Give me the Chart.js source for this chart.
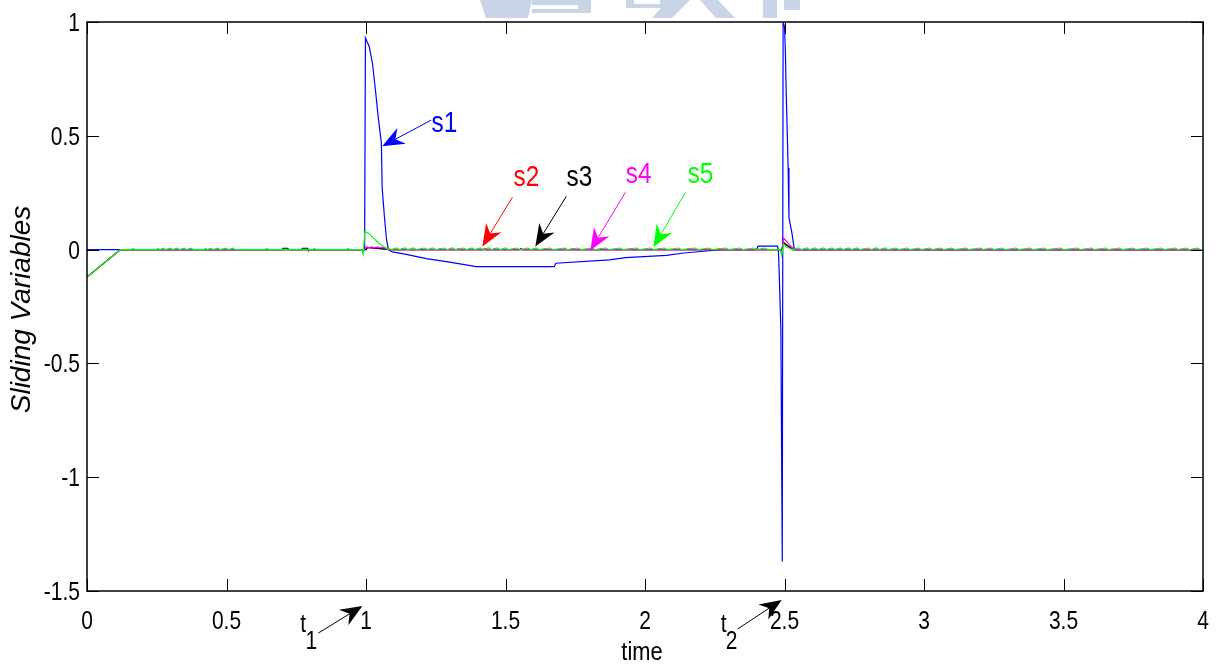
<!DOCTYPE html>
<html>
<head>
<meta charset="utf-8">
<title>Sliding Variables</title>
<script src="https://cdn.jsdelivr.net/npm/chart.js@4.4.1/dist/chart.umd.min.js"></script>
<style>
  html, body { margin: 0; padding: 0; background: #fff; }
  canvas { display: block; }
</style>
</head>
<body>
<canvas id="slidingChart" width="1218" height="664"></canvas>
<script>
// axis ticks
const xTicks = [0, 0.5, 1, 1.5, 2, 2.5, 3, 3.5, 4];
const yTicks = [-1.5, -1, -0.5, 0, 0.5, 1];

// s1
const s1T = [0, 0.995, 0.998, 1.012, 1.023, 1.033, 1.044, 1.055, 1.058, 1.065, 1.073, 1.080, 1.094, 1.14, 1.216,
  1.30, 1.395, 1.675, 1.68, 1.873, 1.93, 2.077, 2.14, 2.23, 2.27, 2.40, 2.405, 2.475, 2.478, 2.481, 2.487,
  2.492, 2.495, 2.500, 2.503, 2.506, 2.510, 2.513, 2.516, 2.527, 2.534, 2.537, 4.0];
const s1V = [0, 0, 0.93, 0.89, 0.82, 0.71, 0.58, 0.47, 0.27, 0.16, 0.05, 0, -0.01, -0.02, -0.04,
  -0.055, -0.075, -0.075, -0.06, -0.045, -0.035, -0.025, -0.015, -0.005, 0, 0, 0.015, 0.015, 0, -0.1, -0.35,
  -1.37, 1.0, 0.98, 0.88, 0.69, 0.51, 0.36, 0.14, 0.07, 0.01, 0, 0];

// s2
const s2T = [0, 0.12, 1.0, 1.005, 1.09, 1.42, 1.425, 1.43, 1.71, 1.715, 1.72, 2.49, 2.497, 2.53, 3.2, 3.205, 3.21, 4.0];
const s2V = [-0.12, 0, 0, 0.01, 0, 0, 0.005, 0, 0, 0.005, 0, 0, 0.03, 0, 0, 0.005, 0, 0];

// s3
const s3T = [0, 0.12, 0.70, 0.702, 0.72, 0.722, 0.77, 0.772, 0.79, 0.792, 1.0, 1.005, 1.09, 1.55, 1.555, 1.56,
  2.49, 2.497, 2.53, 4.0];
const s3V = [-0.12, 0, 0, 0.006, 0.006, 0, 0, 0.006, 0.006, 0, 0, 0.01, 0, 0, 0.005, 0,
  0, 0.03, 0, 0];

// s4
const s4T = [0, 0.12, 0.995, 1.0, 1.01, 1.02, 1.03, 1.04, 1.05, 1.06, 1.08,
  1.125, 1.13, 1.135, 1.195, 1.20, 1.205, 1.26, 1.265, 1.27, 1.325, 1.33, 1.335, 1.455, 1.46, 1.465,
  1.525, 1.53, 1.535, 1.635, 1.64, 1.645, 1.735, 1.74, 1.745, 1.835, 1.84, 1.845, 1.94, 1.945, 1.95,
  2.045, 2.05, 2.055, 2.15, 2.155, 2.16, 2.26, 2.265, 2.27,
  2.48, 2.49, 2.497, 2.505, 2.515, 2.527, 2.537, 4.0];
const s4V = [-0.12, 0, 0, 0.012, 0.008, 0.012, 0.008, 0.012, 0.008, 0.01, 0,
  0, 0.005, 0, 0, 0.005, 0, 0, 0.005, 0, 0, 0.005, 0, 0, 0.005, 0,
  0, 0.005, 0, 0, 0.005, 0, 0, 0.005, 0, 0, 0.005, 0, 0, 0.005, 0,
  0, 0.005, 0, 0, 0.005, 0, 0, 0.005, 0,
  0, -0.01, 0.05, 0.04, 0.025, 0.01, 0, 0];

// s5
const s5T = [0, 0.12, 0.16, 0.165, 0.17,
  0.25, 0.255, 0.26, 0.275, 0.28, 0.30, 0.305, 0.325, 0.33, 0.35, 0.355, 0.375, 0.38,
  0.42, 0.425, 0.43, 0.445, 0.45, 0.47, 0.475, 0.50, 0.505, 0.525, 0.53,
  0.64, 0.645, 0.65, 0.81, 0.815, 0.82, 0.93, 0.935, 0.94,
  0.985, 0.99, 0.996, 1.012, 1.023, 1.044, 1.062, 1.077, 1.09,
  1.11, 1.12, 1.14, 1.15, 1.17, 1.18, 1.21, 1.22, 1.24, 1.25, 1.28, 1.29, 1.31, 1.32, 1.35, 1.36,
  1.38, 1.39, 1.41, 1.42, 1.44, 1.45, 1.47, 1.48, 1.50, 1.51, 1.54, 1.55, 1.58, 1.59, 1.61, 1.62,
  1.66, 1.67, 1.71, 1.72, 1.76, 1.77, 1.81, 1.82, 1.86, 1.87, 1.91, 1.92, 1.97, 1.98, 2.02, 2.03,
  2.07, 2.08, 2.12, 2.13, 2.18, 2.19, 2.23, 2.24, 2.29, 2.30, 2.34, 2.35, 2.39, 2.40, 2.43, 2.44,
  2.485, 2.49, 2.497, 2.505, 2.52, 2.53,
  2.55, 2.56, 2.58, 2.59, 2.61, 2.62, 2.64, 2.65, 2.67, 2.68, 2.70, 2.71, 2.73, 2.74, 2.76, 2.77,
  2.80, 2.81, 2.83, 2.84, 2.86, 2.87, 2.90, 2.91, 2.94, 2.95, 2.98, 2.99, 3.02, 3.03, 3.06, 3.07,
  3.10, 3.11, 3.15, 3.16, 3.20, 3.21, 3.24, 3.25, 3.28, 3.29, 3.33, 3.34, 3.38, 3.39, 3.43, 3.44,
  3.49, 3.50, 3.55, 3.56, 3.60, 3.61, 3.65, 3.66, 3.70, 3.71, 3.75, 3.76, 3.80, 3.81, 3.85, 3.86,
  3.90, 3.91, 3.94, 3.95, 3.98, 3.99, 4.0];
const s5V = [-0.12, 0, 0, 0.006, 0,
  0, 0.006, 0, 0.006, 0, 0.006, 0, 0.006, 0, 0.006, 0, 0.006, 0,
  0, 0.006, 0, 0.006, 0, 0.006, 0, 0.006, 0, 0.006, 0,
  0, 0.006, 0, 0, 0.006, 0, 0, 0.006, 0,
  0, -0.02, 0.08, 0.07, 0.055, 0.03, 0.015, 0.004, 0,
  0.007, 0, 0.007, 0, 0.007, 0, 0.007, 0, 0.007, 0, 0.007, 0, 0.007, 0, 0.007, 0,
  0.007, 0, 0.007, 0, 0.007, 0, 0.007, 0, 0.007, 0, 0.007, 0, 0.007, 0, 0.007, 0,
  0.007, 0, 0.007, 0, 0.007, 0, 0.007, 0, 0.007, 0, 0.007, 0, 0.007, 0, 0.007, 0,
  0.007, 0, 0.007, 0, 0.007, 0, 0.007, 0, 0.007, 0, 0.007, 0, 0.007, 0, 0.007, 0,
  0, -0.025, 0.025, 0.012, 0.005, 0,
  0.007, 0, 0.007, 0, 0.007, 0, 0.007, 0, 0.007, 0, 0.007, 0, 0.007, 0, 0.007, 0,
  0.007, 0, 0.007, 0, 0.007, 0, 0.007, 0, 0.007, 0, 0.007, 0, 0.007, 0, 0.007, 0,
  0.007, 0, 0.007, 0, 0.007, 0, 0.007, 0, 0.007, 0, 0.007, 0, 0.007, 0, 0.007, 0,
  0.007, 0, 0.007, 0, 0.007, 0, 0.007, 0, 0.007, 0, 0.007, 0, 0.007, 0, 0.007, 0,
  0.007, 0, 0.007, 0, 0.007, 0, 0];

const seriesNames = ['s1', 's2', 's3', 's4', 's5'];
const seriesColors = ['#0000ff', '#ff0000', '#000000', '#ff00ff', '#00ff00'];

// text labels with arrows, in data units
const labelX = [1.281, 1.575, 1.765, 1.977, 2.199];
const labelY = [0.551, 0.313, 0.313, 0.326, 0.326];
const arrowFromX = [1.234, 1.525, 1.718, 1.930, 2.145];
const arrowFromY = [0.569, 0.230, 0.234, 0.252, 0.252];
const arrowToX = [1.058, 1.417, 1.607, 1.804, 2.030];
const arrowToY = [0.454, 0.014, 0.014, -0.004, 0.010];

// switching instants t1, t2 under the axis
const markSub = ['1', '2'];
const markTextX = [0.775, 2.282];
const markTextY = [-1.650, -1.650];
const markFromX = [0.829, 2.332];
const markFromY = [-1.685, -1.667];
const markToX = [0.987, 2.490];
const markToY = [-1.566, -1.539];

const SANS = "'Liberation Sans', Arial, sans-serif";
const SQUEEZE = 0.84;   // narrow look for the axis lettering

function toPoints(T, V) {
  return T.map(function (t, i) { return { x: t, y: V[i] }; });
}

const allT = [s1T, s2T, s3T, s4T, s5T];
const allV = [s1V, s2V, s3V, s4V, s5V];

const datasets = seriesNames.map(function (name, i) {
  return {
    label: name,
    data: toPoints(allT[i], allV[i]),
    borderColor: seriesColors[i],
    backgroundColor: seriesColors[i],
    borderWidth: 1.2,
    pointRadius: 0,
    tension: 0,
    fill: false,
    order: seriesNames.length - i   // later series drawn on top
  };
});

// text squeezed horizontally around its anchor
function narrowText(ctx, text, x, y, size, align, baseline) {
  ctx.save();
  ctx.translate(x, y);
  ctx.scale(SQUEEZE, 1);
  ctx.font = size + 'px ' + SANS;
  ctx.textAlign = align;
  ctx.textBaseline = baseline;
  ctx.fillText(text, 0, 0);
  ctx.restore();
}

function drawArrow(ctx, x0, y0, x1, y1, color) {
  const a = Math.atan2(y1 - y0, x1 - x0);
  const dx = Math.cos(a), dy = Math.sin(a);
  const L = 22, W = 9, N = 15;
  ctx.strokeStyle = color;
  ctx.fillStyle = color;
  ctx.lineWidth = 1;
  ctx.beginPath();
  ctx.moveTo(x0, y0);
  ctx.lineTo(x1 - N * dx, y1 - N * dy);
  ctx.stroke();
  ctx.beginPath();
  ctx.moveTo(x1, y1);
  ctx.lineTo(x1 - L * dx - W * dy, y1 - L * dy + W * dx);
  ctx.lineTo(x1 - N * dx, y1 - N * dy);
  ctx.lineTo(x1 - L * dx + W * dy, y1 - L * dy - W * dx);
  ctx.closePath();
  ctx.fill();
}

// faint emblem behind the top edge
const emblem = [
  [[480, 0], [532, 0], [528, 18], [486, 18]],
  [[532, 0], [578, 0], [578, 5], [532, 5]],
  [[532, 9], [578, 9], [578, 13], [532, 13]],
  [[578, 0], [591, 0], [591, 13], [578, 13]],
  [[626, 0], [634, 0], [634, 8], [626, 8]],
  [[660, 0], [668, 0], [668, 8], [660, 8]],
  [[626, 4], [668, 4], [668, 8], [626, 8]],
  [[668, 0], [690, 0], [672, 18], [652, 18]],
  [[700, 0], [718, 0], [735, 18], [716, 18]],
  [[763, 0], [777, 0], [777, 18], [763, 18]],
  [[784, 0], [800, 0], [800, 10], [784, 10]]
];

// frame, inward ticks, tick labels, titles and arrow labels
const decorations = {
  id: 'decorations',
  beforeDraw(chart) {
    const ctx = chart.ctx;
    ctx.save();
    ctx.fillStyle = '#fff';
    ctx.fillRect(0, 0, chart.width, chart.height);
    ctx.fillStyle = '#c9d4e6';
    emblem.forEach(function (poly) {
      ctx.beginPath();
      poly.forEach(function (p, k) { if (k === 0) ctx.moveTo(p[0], p[1]); else ctx.lineTo(p[0], p[1]); });
      ctx.closePath();
      ctx.fill();
    });
    ctx.restore();
  },
  afterDraw(chart) {
    const ctx = chart.ctx;
    const a = chart.chartArea;
    const xs = chart.scales.x, ys = chart.scales.y;
    ctx.save();

    // box
    ctx.strokeStyle = '#000';
    ctx.lineWidth = 1.5;
    ctx.strokeRect(a.left, a.top, a.right - a.left, a.bottom - a.top);

    // ticks pointing inward on all four sides
    ctx.lineWidth = 1;
    ctx.beginPath();
    xTicks.forEach(function (v) {
      const px = Math.round(xs.getPixelForValue(v)) + 0.5;
      ctx.moveTo(px, a.bottom); ctx.lineTo(px, a.bottom - 12);
      ctx.moveTo(px, a.top); ctx.lineTo(px, a.top + 12);
    });
    yTicks.forEach(function (v) {
      const py = Math.round(ys.getPixelForValue(v)) + 0.5;
      ctx.moveTo(a.left, py); ctx.lineTo(a.left + 12, py);
      ctx.moveTo(a.right, py); ctx.lineTo(a.right - 12, py);
    });
    ctx.stroke();

    // tick labels
    ctx.fillStyle = '#000';
    xTicks.forEach(function (v) {
      narrowText(ctx, String(v), xs.getPixelForValue(v), a.bottom + 38, 25, 'center', 'alphabetic');
    });
    yTicks.forEach(function (v) {
      narrowText(ctx, String(v), a.left - 7, ys.getPixelForValue(v) + 9, 25, 'right', 'alphabetic');
    });

    // axis titles
    narrowText(ctx, 'time', (a.left + a.right) / 2 - 3, 660, 26, 'center', 'alphabetic');

    ctx.save();
    ctx.translate(22, (a.top + a.bottom) / 2 + 3);
    ctx.rotate(-Math.PI / 2);
    ctx.font = 'italic 28px ' + SANS;
    ctx.textAlign = 'center';
    ctx.textBaseline = 'middle';
    ctx.fillText('Sliding Variables', 0, 0);
    ctx.restore();

    // series labels
    seriesNames.forEach(function (name, i) {
      ctx.fillStyle = seriesColors[i];
      narrowText(ctx, name, xs.getPixelForValue(labelX[i]), ys.getPixelForValue(labelY[i]), 29, 'center', 'middle');
      drawArrow(ctx,
        xs.getPixelForValue(arrowFromX[i]), ys.getPixelForValue(arrowFromY[i]),
        xs.getPixelForValue(arrowToX[i]), ys.getPixelForValue(arrowToY[i]),
        seriesColors[i]);
    });

    // t1 / t2
    markSub.forEach(function (sub, i) {
      const tx = xs.getPixelForValue(markTextX[i]);
      const ty = ys.getPixelForValue(markTextY[i]);
      ctx.fillStyle = '#000';
      narrowText(ctx, 't', tx, ty, 25, 'center', 'middle');
      narrowText(ctx, sub, tx + 8, ty + 17, 25, 'center', 'middle');
      drawArrow(ctx,
        xs.getPixelForValue(markFromX[i]), ys.getPixelForValue(markFromY[i]),
        xs.getPixelForValue(markToX[i]), ys.getPixelForValue(markToY[i]),
        '#000');
    });

    ctx.restore();
  }
};

const ctx = document.getElementById('slidingChart').getContext('2d');
const slidingChart = new Chart(ctx, {
  type: 'line',
  data: { datasets: datasets },
  options: {
    responsive: false,
    animation: false,
    devicePixelRatio: 1,
    layout: { padding: { left: 0, right: 15, top: 22, bottom: 0 } },
    plugins: {
      legend: { display: false },
      tooltip: { enabled: false }
    },
    scales: {
      x: {
        type: 'linear',
        min: 0,
        max: 4,
        afterFit: function (s) { s.height = 73; },
        ticks: { display: false },
        grid: { display: false, drawTicks: false },
        border: { display: false }
      },
      y: {
        type: 'linear',
        min: -1.5,
        max: 1,
        afterFit: function (s) { s.width = 87; },
        ticks: { display: false },
        grid: { display: false, drawTicks: false },
        border: { display: false }
      }
    }
  },
  plugins: [decorations]
});
</script>
</body>
</html>
